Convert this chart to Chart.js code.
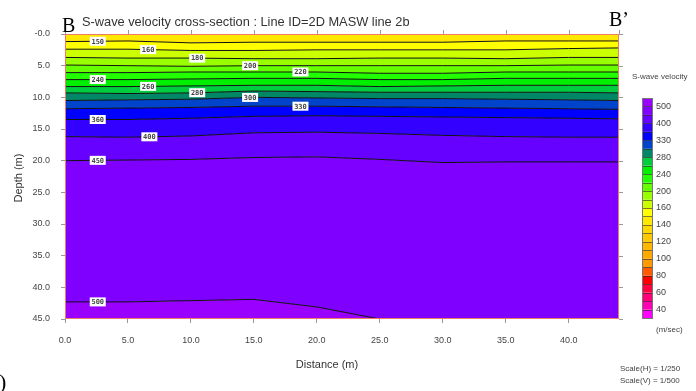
<!DOCTYPE html>
<html>
<head>
<meta charset="utf-8">
<script src="https://cdn.jsdelivr.net/npm/chart.js@4/dist/chart.umd.min.js"></script>
<style>
    html, body { margin: 0; padding: 0; background: #fff; }
    #wrap { width: 696px; height: 391px; }
</style>
</head>
<body>
<div id="wrap"><canvas id="sectionChart" width="696" height="391"></canvas></div>
<script>
    // survey distance (m) where contour depths were read
    var distance = [0, 5, 10, 15, 20, 25, 30, 35, 40, 44];
    var xTickValues = [0, 5, 10, 15, 20, 25, 30, 35, 40];
    var yTickValues = [0, 5, 10, 15, 20, 25, 30, 35, 40, 45];

    // colour scale levels (m/sec)
    var levels = [40, 50, 60, 70, 80, 90, 100, 110, 120, 130, 140, 150, 160, 180, 200, 220, 240, 260, 280, 300, 330, 360, 400, 450, 500];
    var barLabels = [40, 60, 80, 100, 120, 140, 160, 200, 240, 280, 330, 400, 500];
    // one colour per band: below 40, 40-50, ..., 450-500, above 500
    var bandColors = ["#ff00ff", "#ff00b4", "#ff0078", "#ff0040", "#ff0000", "#ff5a00", "#ff9900", "#ffa800",
        "#ffb800", "#ffc800", "#ffd800", "#ffe800", "#ffff00", "#ccff00", "#99ff00", "#66ff00", "#22ff00",
        "#00ee00", "#00cc40", "#008866", "#0044cc", "#0000ff", "#3300ff", "#6600ff", "#8000ff", "#9900ff"];

    // contour depths (m) along the line
    var d150 = [1.2, 1.1, 1.4, 1.3, 1.3, 1.3, 1.3, 1.1, 1.1, 1.1];
    var d160 = [2.4, 2.4, 2.6, 2.6, 2.5, 2.5, 2.5, 2.5, 2.3, 2.2];
    var d180 = [3.7, 3.8, 3.8, 3.9, 3.9, 3.8, 3.8, 3.9, 3.7, 3.7];
    var d200 = [4.9, 5.0, 5.1, 5.0, 5.0, 5.0, 5.0, 5.0, 4.9, 4.9];
    var d220 = [6.1, 6.1, 6.0, 6.0, 6.0, 6.2, 6.2, 6.0, 6.0, 6.0];
    var d240 = [7.2, 7.2, 7.1, 7.0, 7.0, 7.2, 7.2, 7.0, 7.0, 7.0];
    var d260 = [8.3, 8.3, 8.2, 8.1, 8.1, 8.3, 8.2, 8.1, 8.1, 8.1];
    var d280 = [9.3, 9.4, 9.3, 9.0, 9.1, 9.2, 9.2, 9.2, 9.2, 9.3];
    var d300 = [10.5, 10.4, 10.3, 10.0, 10.1, 10.2, 10.2, 10.3, 10.4, 10.5];
    var d330 = [11.8, 11.7, 11.6, 11.4, 11.4, 11.5, 11.6, 11.7, 11.8, 11.9];
    var d360 = [13.5, 13.5, 13.3, 13.0, 12.9, 13.0, 13.1, 13.2, 13.3, 13.4];
    var d400 = [16.2, 16.3, 16.1, 15.6, 15.5, 15.7, 16.0, 16.2, 16.3, 16.3];
    var d450 = [20.0, 19.9, 19.8, 19.5, 19.4, 19.8, 20.3, 20.2, 20.2, 20.2];
    var d500 = [42.3, 42.3, 42.1, 41.9, 43.1, 45.0, 45.0, 45.0, 45.0, 45.0];
    var surface = [0, 0, 0, 0, 0, 0, 0, 0, 0, 0];
    var bottom = [45, 45, 45, 45, 45, 45, 45, 45, 45, 45];

    var contourLevels = [150, 160, 180, 200, 220, 240, 260, 280, 300, 330, 360, 400, 450, 500];
    var contourDepths = [d150, d160, d180, d200, d220, d240, d260, d280, d300, d330, d360, d400, d450, d500];
    var labelDistance = [2.6, 6.6, 10.5, 14.7, 18.7, 2.6, 6.6, 10.5, 14.7, 18.7, 2.6, 6.7, 2.6, 2.6];

    function ToPoints(depths) {
        return distance.map(function (x, i) {
            return { x: x, y: depths[i] };
        });
    }

    function DepthAt(depths, x) {
        for (var i = 1; i < distance.length; i++) {
            if (x <= distance[i]) {
                var t = (x - distance[i - 1]) / (distance[i] - distance[i - 1]);
                return depths[i - 1] + t * (depths[i] - depths[i - 1]);
            }
        }
        return depths[depths.length - 1];
    }

    function BuildDatasets() {
        var sets = [{
            data: ToPoints(surface),
            borderWidth: 0,
            fill: false
        }];
        contourLevels.forEach(function (level, i) {
            sets.push({
                data: ToPoints(contourDepths[i]),
                borderColor: "#111",
                borderWidth: 1,
                backgroundColor: bandColors[levels.indexOf(level)],
                fill: "-1"
            });
        });
        sets.push({
            data: ToPoints(bottom),
            borderWidth: 0,
            backgroundColor: bandColors[bandColors.length - 1],
            fill: "-1"
        });
        return sets;
    }

    var decorPlugin = {
        id: "decor",
        beforeDraw: function (chart) {
            var ctx = chart.ctx;
            ctx.save();
            ctx.fillStyle = "#fff";
            ctx.fillRect(0, 0, chart.width, chart.height);
            ctx.restore();
        },
        afterDraw: function (chart) {
            var ctx = chart.ctx;
            var area = chart.chartArea;
            var xs = chart.scales.x;
            var ys = chart.scales.y;
            ctx.save();

            // frame
            ctx.strokeStyle = "#f07a6a";
            ctx.lineWidth = 1;
            ctx.strokeRect(area.left + 0.5, area.top + 0.5, area.right - area.left - 1, area.bottom - area.top - 1);

            // mirrored ticks on top and right
            ctx.strokeStyle = "#999";
            ctx.beginPath();
            xTickValues.concat([44]).forEach(function (v) {
                var px = Math.round(xs.getPixelForValue(v)) + 0.5;
                ctx.moveTo(px, area.top);
                ctx.lineTo(px, area.top - 4);
            });
            yTickValues.forEach(function (v) {
                var py = Math.round(ys.getPixelForValue(v)) + 0.5;
                ctx.moveTo(area.right, py);
                ctx.lineTo(area.right + 4, py);
            });
            ctx.stroke();

            // contour labels
            ctx.font = "bold 7px 'DejaVu Sans Mono'";
            ctx.textAlign = "center";
            ctx.textBaseline = "middle";
            contourLevels.forEach(function (level, i) {
                var px = xs.getPixelForValue(labelDistance[i]);
                var py = ys.getPixelForValue(DepthAt(contourDepths[i], labelDistance[i]));
                ctx.fillStyle = "#fff";
                ctx.fillRect(px - 8, py - 4.5, 16, 9);
                ctx.fillStyle = "#444";
                ctx.fillText(String(level), px, py + 0.5);
            });

            // colour bar
            var barX = 642, barW = 10, barTop = 98, barBottom = 318;
            var boxH = (barBottom - barTop) / bandColors.length;
            bandColors.forEach(function (c, i) {
                var y0 = barBottom - (i + 1) * boxH;
                ctx.fillStyle = c;
                ctx.fillRect(barX, y0, barW, boxH);
            });
            ctx.strokeStyle = "rgba(40,40,40,0.6)";
            ctx.beginPath();
            for (var k = 1; k < bandColors.length; k++) {
                var yb = Math.round(barBottom - k * boxH) + 0.5;
                ctx.moveTo(barX, yb);
                ctx.lineTo(barX + barW, yb);
            }
            ctx.stroke();
            ctx.strokeStyle = "#777";
            ctx.strokeRect(barX + 0.5, barTop + 0.5, barW, barBottom - barTop);

            ctx.font = "9px 'Liberation Sans'";
            ctx.fillStyle = "#444";
            ctx.textAlign = "left";
            barLabels.forEach(function (v) {
                var k = levels.indexOf(v) + 1;
                ctx.fillText(String(v), barX + barW + 4, barBottom - k * boxH);
            });

            ctx.font = "8px 'Liberation Sans'";
            ctx.fillText("S-wave velocity", 632, 77);
            ctx.fillText("(m/sec)", 656, 330);
            ctx.fillText("Scale(H) = 1/250", 620, 369);
            ctx.fillText("Scale(V) = 1/500", 620, 381);

            // titles
            ctx.fillStyle = "#333";
            ctx.font = "12.8px 'Liberation Sans'";
            ctx.textBaseline = "alphabetic";
            ctx.fillText("S-wave velocity cross-section : Line ID=2D MASW line 2b", 82, 26);
            ctx.font = "11px 'Liberation Sans'";
            ctx.textAlign = "center";
            ctx.textBaseline = "middle";
            ctx.fillText("Distance (m)", 327, 365);
            ctx.save();
            ctx.translate(19, 178);
            ctx.rotate(-Math.PI / 2);
            ctx.fillText("Depth (m)", 0, 0);
            ctx.restore();

            ctx.fillStyle = "#000";
            ctx.textAlign = "left";
            ctx.textBaseline = "alphabetic";
            ctx.font = "20px 'Liberation Serif'";
            ctx.fillText("B", 62, 32);
            ctx.fillText("B\u2019", 609, 26);
            ctx.font = "22px 'Liberation Serif'";
            ctx.fillText(")", -1, 389);
            ctx.restore();
        }
    };

    function Init() {
        var ctx = document.getElementById("sectionChart");
        new Chart(ctx, {
            type: "line",
            data: { datasets: BuildDatasets() },
            plugins: [decorPlugin],
            options: {
                responsive: false,
                animation: false,
                devicePixelRatio: 1,
                layout: { padding: { left: 0, top: 34, right: 77, bottom: 0 } },
                elements: { point: { radius: 0 }, line: { tension: 0 } },
                plugins: {
                    legend: { display: false },
                    tooltip: { enabled: false },
                    filler: { propagate: false }
                },
                scales: {
                    x: {
                        type: "linear",
                        min: 0,
                        max: 44,
                        afterFit: function (scale) { scale.height = 72; },
                        afterBuildTicks: function (scale) {
                            scale.ticks = xTickValues.map(function (v) { return { value: v }; });
                        },
                        ticks: {
                            padding: 12,
                            color: "#444",
                            font: { family: "'Liberation Sans'", size: 9 },
                            maxRotation: 0,
                            callback: function (v) { return Number(v).toFixed(1); }
                        },
                        grid: { drawOnChartArea: false, tickLength: 4, color: "#999" },
                        border: { display: false }
                    },
                    y: {
                        type: "linear",
                        reverse: true,
                        min: 0,
                        max: 45,
                        afterFit: function (scale) { scale.width = 65; },
                        afterBuildTicks: function (scale) {
                            scale.ticks = yTickValues.map(function (v) { return { value: v }; });
                        },
                        ticks: {
                            padding: 11,
                            color: "#444",
                            font: { family: "'Liberation Sans'", size: 9 },
                            callback: function (v) { return v === 0 ? "-0.0" : Number(v).toFixed(1); }
                        },
                        grid: { drawOnChartArea: false, tickLength: 4, color: "#999" },
                        border: { display: false }
                    }
                }
            }
        });
    }

    Init();
</script>
</body>
</html>
